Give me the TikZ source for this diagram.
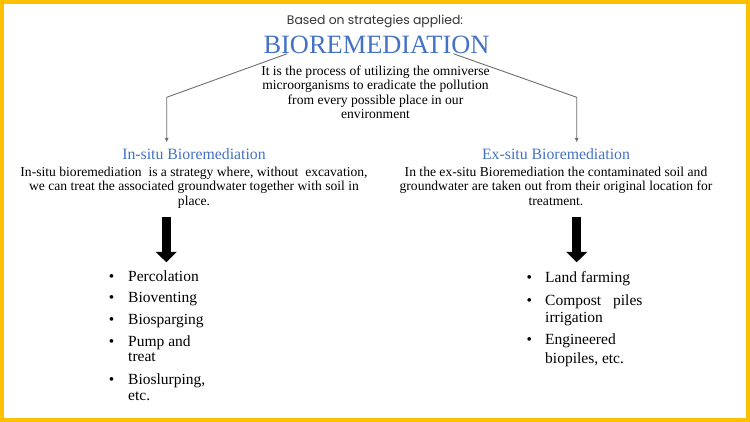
\documentclass[tikz,border=0pt]{standalone}
\usepackage{fontspec}
\setmainfont{Liberation Serif}
\newfontfamily\stratfont{Poppins}
\usetikzlibrary{arrows.meta,calc}
\definecolor{frameyellow}{HTML}{FFC000}
\definecolor{bioblue}{HTML}{4472C4}
\definecolor{linkgray}{HTML}{6E6E6E}

\begin{document}
\begin{tikzpicture}[x=1pt,y=-1pt,
  txt/.style={inner sep=0pt,font=\fontsize{13.6}{14.5}\selectfont,align=center,text=black},
  head/.style={inner sep=0pt,anchor=base,text=bioblue},
  link/.style={draw=linkgray,line width=0.9pt,-{Latex[length=4.5pt,width=4pt]}},
  bigarrow/.style={line width=9.5pt,-{Triangle[width=20.5pt,length=10.5pt]}},
  entry/.style={inner sep=0pt,anchor=base west,font=\fontsize{15.5}{18}\selectfont,text=black},
  dot/.style={inner sep=0pt,anchor=base,font=\fontsize{15.5}{18}\selectfont}]
\fill[frameyellow] (0,0) rectangle (750,422);
\fill[white] (4.3,4.3) rectangle (745.7,417.7);
\node[anchor=base,inner sep=0pt,font=\stratfont\fontsize{12.4}{14}\selectfont,text=black!80] (strat) at (375,25) {Based on strategies applied:};
\node[head,font=\fontsize{26.4}{30}\selectfont] (title) at (376.5,53.3) {BIOREMEDIATION};
\node[txt,anchor=north] (intro) at (375.5,65.7) {It is the process of utilizing the omniverse\\microorganisms to eradicate the pollution\\from every possible place in our\\environment};
\node[head,font=\fontsize{15.8}{18}\selectfont] (insitu) at (194,159.3) {In-situ Bioremediation};
\node[head,font=\fontsize{15.8}{18}\selectfont] (exsitu) at (556,159.3) {Ex-situ Bioremediation};
\node[txt,anchor=north] (indesc) at (194,166.4) {In-situ bioremediation\ \ is a strategy where, without\ \ excavation,\\we can treat the associated groundwater together with soil in\\place.};
\node[txt,anchor=north] (exdesc) at (556,166.4) {In the ex-situ Bioremediation the contaminated soil and\\groundwater are taken out from their original location for\\treatment.};
\coordinate (lknee) at (166.7,97.3);
\coordinate (lend) at (166.7,142.5);
\coordinate (rknee) at (576.7,97.3);
\coordinate (rend) at (576.7,142.5);
\draw[link] ($(title.south west)!0.105!(title.south east)$) -- (lknee) -- (lend);
\draw[link] ($(title.south west)!0.84!(title.south east)$) -- (rknee) -- (rend);
\coordinate (lfrom) at (166.3,216.7);
\coordinate (lto) at (166.3,262.3);
\coordinate (rfrom) at (576.7,216.7);
\coordinate (rto) at (576.7,262.3);
\draw[bigarrow] (lfrom) -- (lto);
\draw[bigarrow] (rfrom) -- (rto);
\foreach \t/\y [count=\i] in {Percolation/281,Bioventing/302.7,Biosparging/324,Pump and/346,treat/361.7,{Bioslurping,}/384.3,etc./400}
  \node[entry] (in\i) at (128,\y) {\t};
\foreach \y [count=\i] in {281,302.7,324,346,384.3}
  \node[dot] (inb\i) at (111.7,\y) {\textbullet};
\foreach \t/\y [count=\i] in {Land farming/282.7,Compost\hspace{12pt}piles/305.3,irrigation/322,Engineered/344.3,{biopiles, etc.}/363.3}
  \node[entry] (ex\i) at (545,\y) {\t};
\foreach \y [count=\i] in {282.7,305.3,344.3}
  \node[dot] (exb\i) at (529.3,\y) {\textbullet};
\end{tikzpicture}
\end{document}
